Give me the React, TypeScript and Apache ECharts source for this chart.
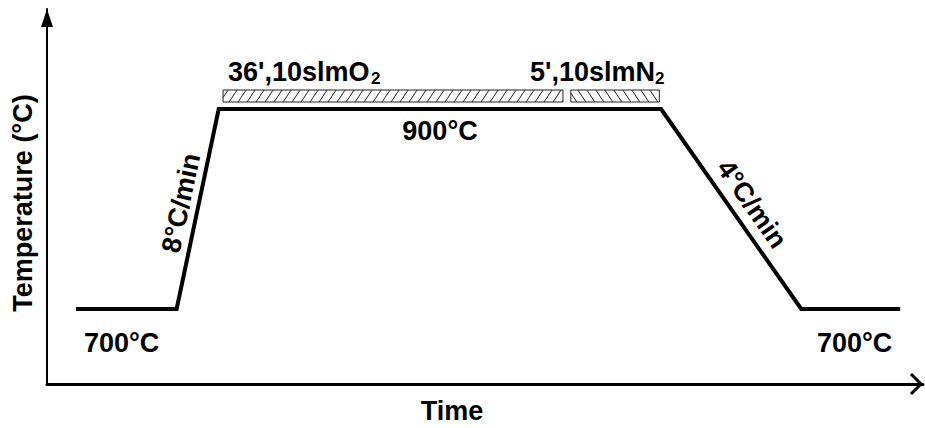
import { useEffect, useRef } from "react";
import * as echarts from "echarts";

// Thermal oxidation profile (schematic): time in arbitrary units, temperature in °C
const profileTime = [3.3, 14.8, 19.6, 70.1, 86.1, 97.4];
const profileTemp = [700, 700, 900, 900, 700, 700];

// Gas flow steps on the 900 °C plateau
const gasStart = [20.1, 59.8];
const gasEnd = [58.9, 69.9];
const gasLow = [907, 907];
const gasHigh = [919, 919];
const hatchDir = [1, -1]; // 1 = "/" hatching, -1 = "\" hatching

const X_MIN = 0;
const X_MAX = 100;
const Y_MIN = 625;
const Y_MAX = 1000;

const FONT = '"Liberation Sans", Arial, Helvetica, sans-serif';

function clipSeg(x1: number, y1: number, x2: number, y2: number, lo: number, hi: number) {
  const dx = x2 - x1;
  if (Math.abs(dx) < 1e-9) {
    if (x1 < lo || x1 > hi) return null;
    return { x1, y1, x2, y2 };
  }
  const tA = (lo - x1) / dx;
  const tB = (hi - x1) / dx;
  const t0 = Math.max(0, Math.min(tA, tB));
  const t1 = Math.min(1, Math.max(tA, tB));
  if (t0 >= t1) return null;
  return {
    x1: x1 + dx * t0,
    y1: y1 + (y2 - y1) * t0,
    x2: x1 + dx * t1,
    y2: y1 + (y2 - y1) * t1,
  };
}

function label(text: string, x: number, y: number, opts: any = {}) {
  const align = opts.align || "center";
  return {
    type: "text",
    x,
    y,
    rotation: opts.rotation || 0,
    silent: true,
    style: {
      text,
      fill: "#000",
      fontSize: opts.size || 27,
      fontWeight: "bold",
      fontFamily: FONT,
      align,
      textAlign: align,
      verticalAlign: "middle",
      textVerticalAlign: "middle",
    },
  };
}

export default function App() {
  const ref = useRef<HTMLDivElement>(null);

  useEffect(() => {
    if (!ref.current) return;
    const chart = echarts.init(ref.current, null, { renderer: "svg" });

    const gasData = gasStart.map((s, i) => [s, gasEnd[i], gasLow[i], gasHigh[i], hatchDir[i]]);

    const rampUpAngle = Math.atan2(200, 43);
    const rampDownAngle = -Math.atan2(200, 140);

    chart.setOption({
      animation: false,
      backgroundColor: "#fff",
      grid: { left: 47, right: 2, top: 9, bottom: 44, outerBoundsMode: "none" },
      xAxis: {
        type: "value",
        min: X_MIN,
        max: X_MAX,
        splitLine: { show: false },
        axisTick: { show: false },
        axisLabel: { show: false },
        axisLine: { show: true, onZero: false, lineStyle: { color: "#000", width: 3 } },
      },
      yAxis: {
        type: "value",
        min: Y_MIN,
        max: Y_MAX,
        splitLine: { show: false },
        axisTick: { show: false },
        axisLabel: { show: false },
        axisLine: {
          show: true,
          onZero: false,
          symbol: ["none", "triangle"],
          symbolSize: [12, 18],
          symbolOffset: [0, -9],
          lineStyle: { color: "#000", width: 2 },
        },
      },
      series: [
        {
          type: "line",
          data: profileTime.map((t, i) => [t, profileTemp[i]]),
          symbol: "none",
          lineStyle: { color: "#000", width: 4, join: "miter", cap: "butt" },
          z: 3,
        },
        {
          type: "custom",
          clip: false,
          data: gasData,
          renderItem: (_params: any, api: any) => {
            const tl = api.coord([api.value(0), api.value(3)]);
            const br = api.coord([api.value(1), api.value(2)]);
            const left = tl[0];
            const top = tl[1];
            const right = br[0];
            const bottom = br[1];
            const dir = api.value(4);
            const slant = 8 * dir;
            const step = 9;
            const children: any[] = [
              {
                type: "rect",
                shape: { x: left, y: top, width: right - left, height: bottom - top },
                style: { fill: "#fff", stroke: "#222", lineWidth: 1 },
              },
            ];
            for (let xa = left - 12; xa < right + 12; xa += step) {
              const seg = clipSeg(xa, bottom, xa + slant, top, left, right);
              if (seg) {
                children.push({
                  type: "line",
                  shape: seg,
                  style: { stroke: "#222", lineWidth: 1 },
                });
              }
            }
            return { type: "group", children };
          },
        },
      ],
      graphic: [
        {
          type: "polyline",
          silent: true,
          shape: { points: [[911, 374], [921, 384], [911, 394]] },
          style: { stroke: "#000", lineWidth: 3, fill: "none", lineJoin: "miter" },
        },
        label("36',10slmO", 228, 71.5, { align: "left" }),
        label("2", 371, 78, { align: "left", size: 17 }),
        label("5',10slmN", 530, 71.5, { align: "left" }),
        label("2", 655, 78, { align: "left", size: 17 }),
        label("900°C", 440, 131),
        label("700°C", 84, 343, { align: "left" }),
        label("700°C", 817, 343, { align: "left" }),
        label("Time", 452, 411),
        label("Temperature (°C)", 23, 203, { rotation: Math.PI / 2 }),
        label("8°C/min", 181, 203, { rotation: rampUpAngle }),
        label("4°C/min", 752, 204, { rotation: rampDownAngle }),
      ],
    });

    return () => chart.dispose();
  }, []);

  return (
    <div
      ref={ref}
      style={{ position: "fixed", left: 0, top: 0, width: 925, height: 428 }}
    />
  );
}
